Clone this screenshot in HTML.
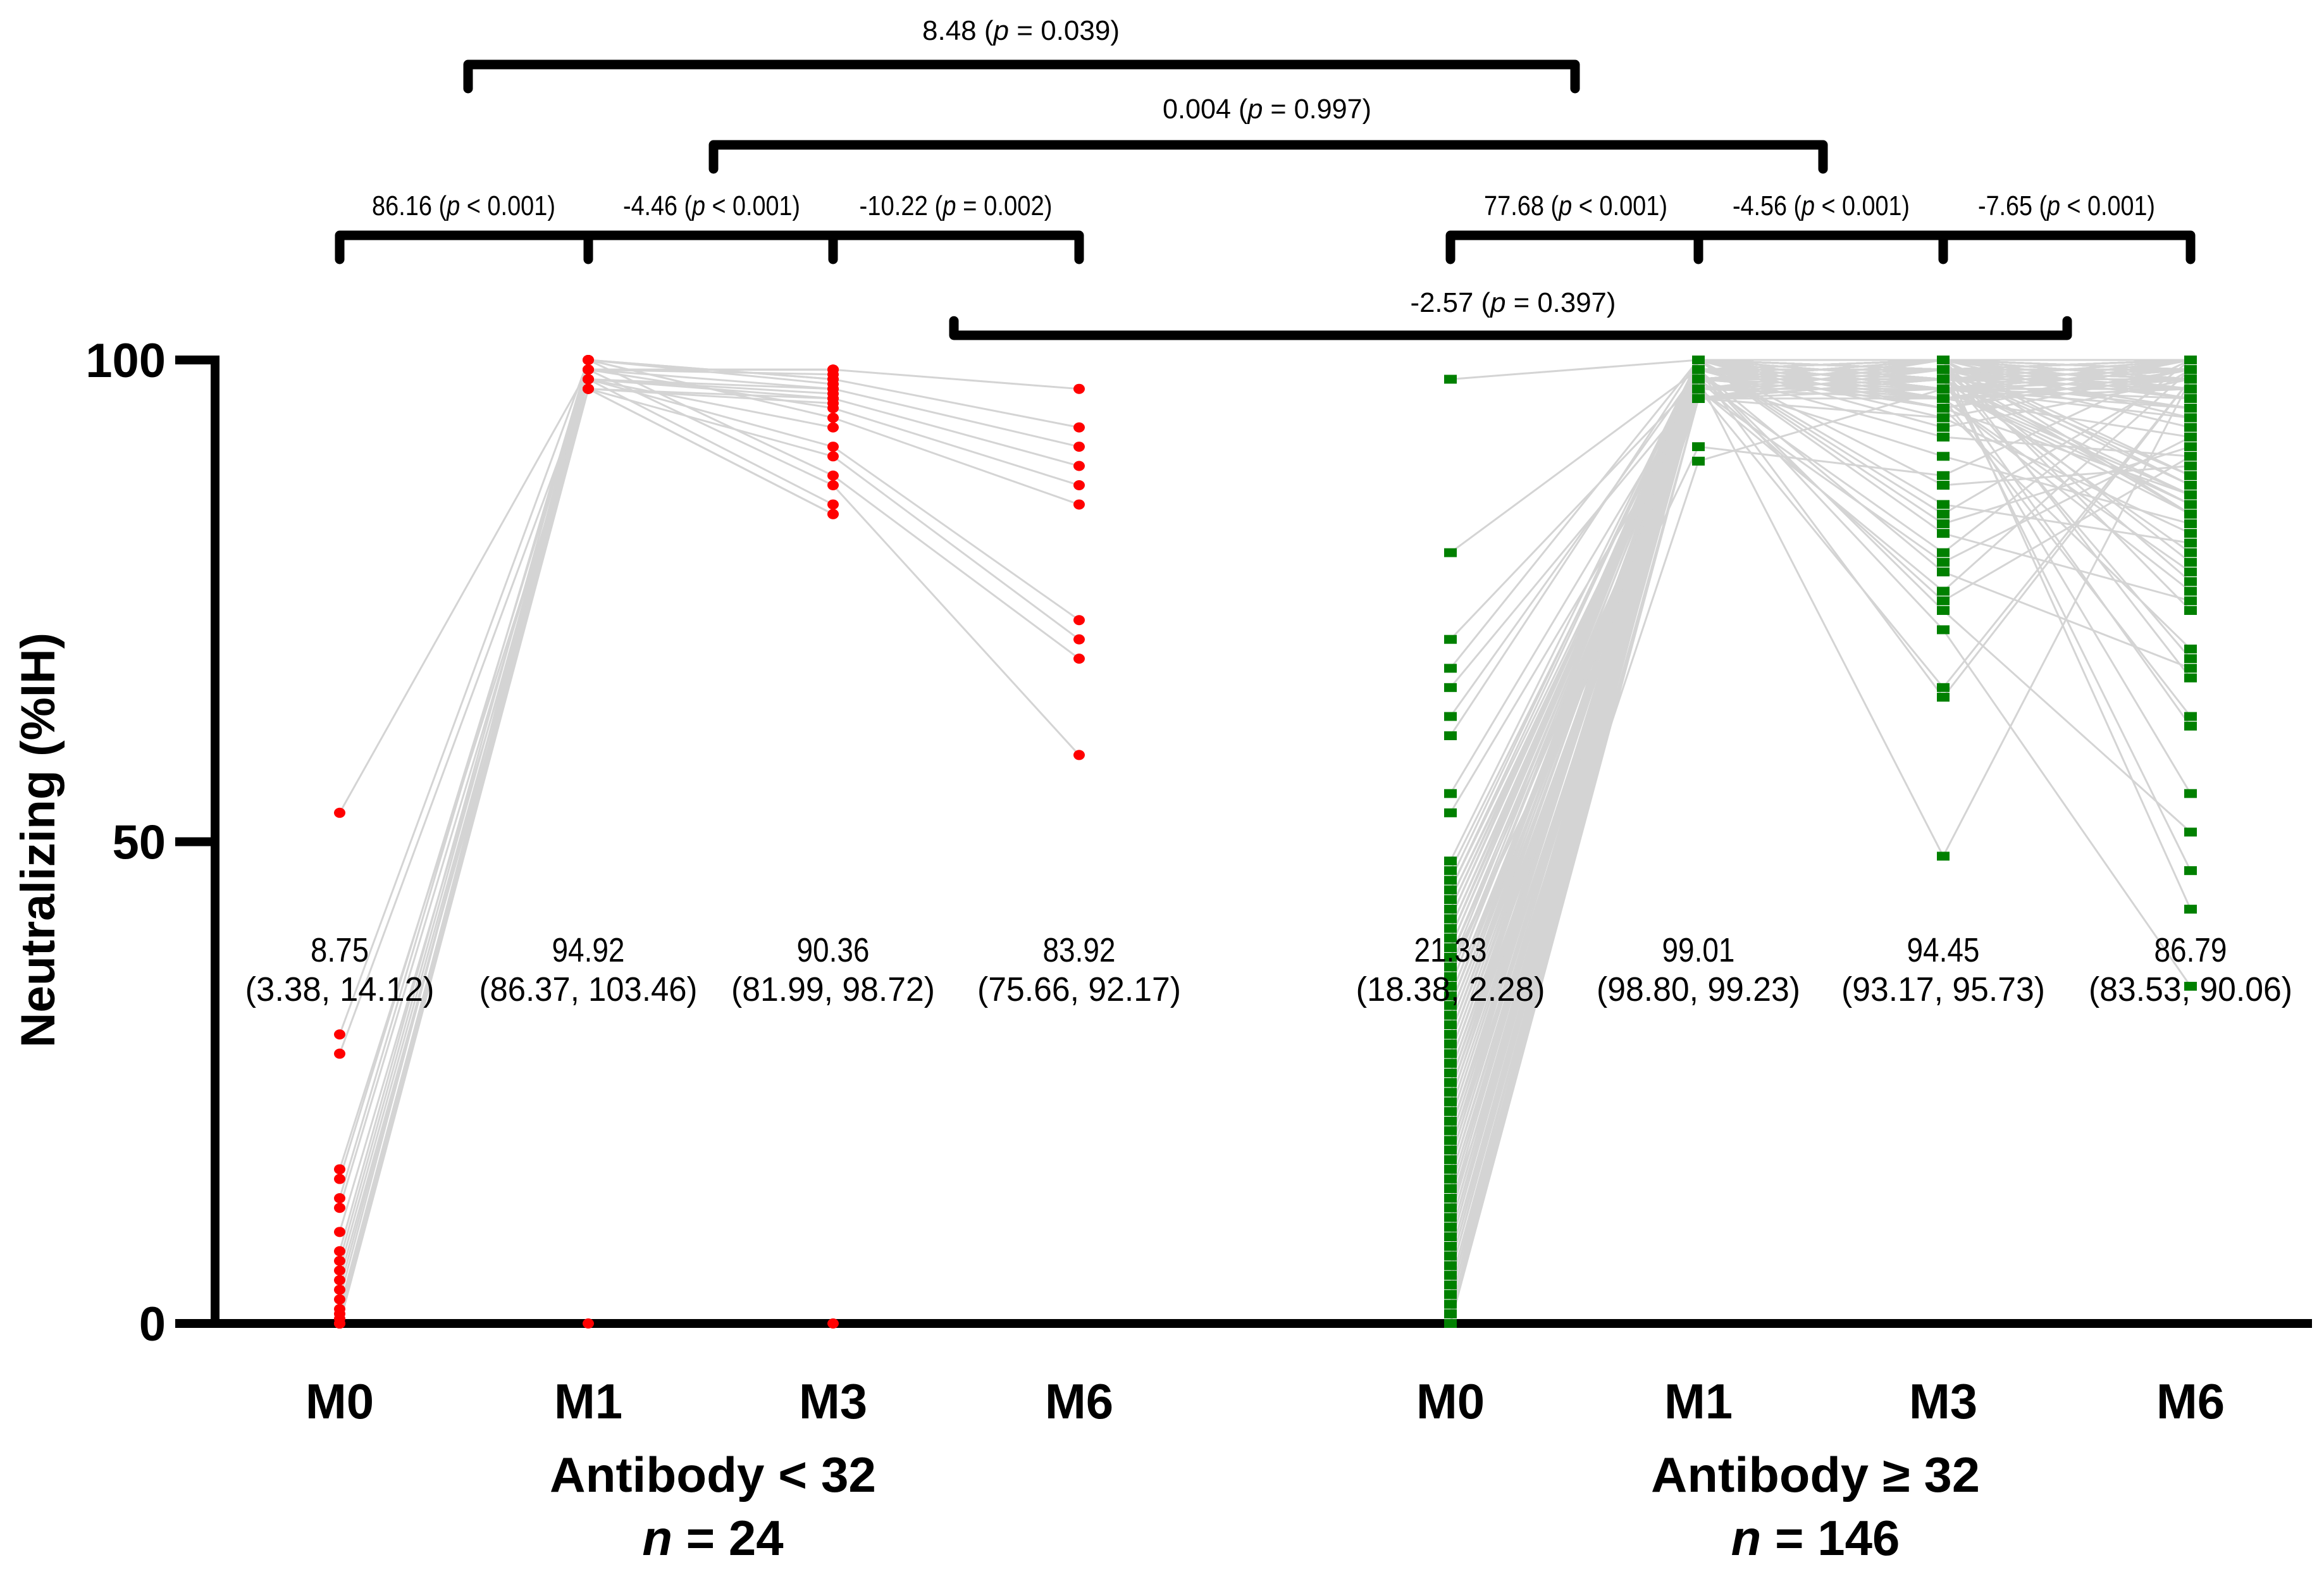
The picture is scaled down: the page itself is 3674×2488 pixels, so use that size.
<!DOCTYPE html>
<html><head><meta charset="utf-8"><style>
html,body{margin:0;padding:0;background:#fff;}
svg{display:block;font-family:"Liberation Sans",sans-serif;}
</style></head><body>
<svg id="chart" width="3674" height="2488" viewBox="0 0 3674 2488" xmlns="http://www.w3.org/2000/svg">
<g id="lines"></g>
<g id="axes"></g>
<g id="points"></g>
<g id="labels"></g>
</svg>
<script>
const timepoints = ["M0","M1","M3","M6"];
const groupNames = ["Antibody < 32","Antibody ≥ 32"];
const groupN = ["24","146"];
const yTicks = [0,50,100];
const meansL = ["8.75","94.92","90.36","83.92"];
const ciL = ["(3.38, 14.12)","(86.37, 103.46)","(81.99, 98.72)","(75.66, 92.17)"];
const meansR = ["21.33","99.01","94.45","86.79"];
const ciR = ["(18.38, 2.28)","(98.80, 99.23)","(93.17, 95.73)","(83.53, 90.06)"];

const m0L = [53,30,28,16,15,13,12,9.5,7.5,6.5,5.5,4.5,3.5,2.5,1.5,1,0.5,0,0,0,0,0,0,0];
const m1L = [99,100,98,97,99,100,98,97,100,99,98,97,99,100,98,99,97,98,100,99,98,97,0,99];
const m3L = [99,98,97,96,95,94,91,90,88,87,85,84,98.5,97.5,96.5,99,95.5,93,98,97,96,84,0,99];
const m6L = [97,93,91,89,87,85,73,71,69,59,null,null,null,null,null,null,null,null,null,null,null,null,null,null];

const m0R = [98,80,71,68,66,63,61,55,53,48,47,46,45,44,43,42,41,40,39,38,37,36,35,34,33,32,31,30,29,28,27,26,25,24,23,22,21,20,19,18,17,16,15,14,13,12,11,10,9,8,7,6,5,4,3,2,1,0,
44,42,40,38,36,35,33,31,30,28,27,25,24,22,21,19,18,17,15,14,12,11,9,8,6,5,3,2,1,0,
41,39,37,34,32,29,26,23,20,16,13,10,7,4,2,1,0,0,0,0,
45,43,38,36,33,31,29,27,25,23,21,19,17,15,13,11,9,7,5,3,
40,35,30,28,26,24,22,20,18,16,14,12,10,8,6,4,2,1];
const m1R = [100,99,98,100,97,99,100,98,96,100,99,100,98,97,99,100,99,98,100,96,
91,100,99,98,100,97,99,100,98,99,100,99,97,100,98,99,100,96,99,100,
98,100,99,97,100,89.5,99,98,100,99,97,100,99,98,100,96,99,100,98,99,
100,99,97,100,98,99,100,99,98,100,97,99,100,98,96,100,99,98,100,99,
97,100,99,98,100,99,96,100,98,99,100,97,99,100,98,99,100,99,98,100,
99,97,100,98,99,100,96,99,100,98,99,100,97,99,100,98,99,100,99,98,
100,97,99,100,98,99,100,96,99,100,98,99,97,100,99,98,100,99,98,100,
99,100,98,97,99,100];
const m3R = [100,99,98,97,96,100,95,99,94,98,100,93,99,97,92,100,98,90,99,96,
88,100,97,99,87,98,100,85,99,96,84,100,98,83,99,97,82,100,95,99,
80,98,100,79,99,97,78,100,96,98,76,99,100,75,97,98,74,99,100,72,
96,98,66,99,100,65,97,98,48.5,100,99,95,98,100,97,99,96,100,98,99,
100,97,99,98,100,96,99,98,100,97,99,100,98,95,99,100,97,98,99,100,
96,98,99,100,97,99,98,100,95,99,100,98,97,99,100,96,98,99,100,97,
99,98,100,96,99,97,100,98,99,94,100,97,99,98,100,96,99,100,98,99,
97,100,99,98,100,99];
const m6R = [100,99,97,95,92,88,86,84,82,80,99,98,96,94,90,87,85,83,79,78,
100,99,97,93,89,86,84,81,77,76,99,98,95,91,88,85,75,74,70,69,
100,98,96,92,87,84,68,67,63,62,99,97,94,90,86,55,51,47,43,35,
100,99,98,100,99,98,100,99,98,97,100,99,98,100,99,98,97,100,99,98,
100,99,98,100,99,98,97,100,99,96,100,99,98,100,99,98,97,100,99,98,
100,99,98,97,100,99,98,100,99,95,100,99,98,100,99,98,97,100,99,98,
100,99,98,97,100,99,98,97,100,99,100,99,98,97,96,100,99,98,97,100,
100,99,98,97,96,99];

const NS = "http://www.w3.org/2000/svg";
const X0 = 340, XAXIS_END = 3655, Y0 = 2092, YPX = 15.23;
const colXL = [537,930,1317,1706];
const colXR = [2293,2685,3072,3463];
function yScale(v){ return Y0 - v*YPX; }
function el(tag, attrs, parent){
  const e = document.createElementNS(NS, tag);
  for (const k in attrs) e.setAttribute(k, attrs[k]);
  parent.appendChild(e);
  return e;
}
const gL = document.getElementById('lines');
const gP = document.getElementById('points');
const gA = document.getElementById('axes');
const gT = document.getElementById('labels');

function drawGroup(series, xs, color, shape, tag){
  const n = series[0].length;
  for (let i=0;i<n;i++){
    for (let t=0;t<3;t++){
      const a = series[t][i], b = series[t+1][i];
      if (a==null || b==null) continue;
      const ln = el('line',{x1:xs[t],y1:yScale(a),x2:xs[t+1],y2:yScale(b),stroke:'#d4d4d4','stroke-width':3},gL);
      
      
    }
  }
  for (let t=0;t<4;t++){
    for (let i=0;i<n;i++){
      const v = series[t][i];
      if (v==null) continue;
      let m;
      if (shape==='circle') m = el('ellipse',{cx:xs[t],cy:yScale(v),rx:9,ry:8,fill:color},gP);
      else m = el('rect',{x:xs[t]-10,y:yScale(v)-7,width:20,height:14,fill:color},gP);
      
      
    }
  }
}
drawGroup([m0L,m1L,m3L,m6L], colXL, '#ff0000', 'circle', 'low-antibody');
drawGroup([m0R,m1R,m3R,m6R], colXR, '#008000', 'square', 'high-antibody');

let a = el('line',{x1:X0,y1:yScale(100)-7,x2:X0,y2:Y0+7,stroke:'#000','stroke-width':14},gA);
 
a = el('line',{x1:277,y1:Y0,x2:XAXIS_END,y2:Y0,stroke:'#000','stroke-width':14},gA);
 
yTicks.forEach(v=>{
  const tk = el('line',{x1:277,y1:yScale(v),x2:X0,y2:yScale(v),stroke:'#000','stroke-width':14},gA);
   
  const tx = el('text',{x:262,y:yScale(v)+27,'text-anchor':'end','font-size':76,'font-weight':'bold'},gT);
  tx.textContent = v;
   
});
let yt = el('text',{x:0,y:0,transform:'translate(86,1328) rotate(-90)','text-anchor':'middle','font-size':76,'font-weight':'bold',textLength:656,lengthAdjust:'spacingAndGlyphs'},gT);
yt.textContent = 'Neutralizing (%IH)';
 

function txt(x,y,s,size,weight,len,name){
  const t = el('text',{x:x,y:y,'text-anchor':'middle','font-size':size,'font-weight':weight||'normal'},gT);
  if (len){ t.setAttribute('textLength',len); t.setAttribute('lengthAdjust','spacingAndGlyphs'); }
  t.textContent = s;
  
  
  return t;
}
function ptxt(x,y,pre,op,post,len,name){
  const t = el('text',{x:x,y:y,'text-anchor':'middle','font-size':44,textLength:len,lengthAdjust:'spacingAndGlyphs'},gT);
  t.appendChild(document.createTextNode(pre+' ('));
  const it = el('tspan',{'font-style':'italic'},t); it.textContent='p';
  t.appendChild(document.createTextNode(' '+op+' '+post+')'));
  
  
}
[colXL,colXR].forEach((xs,g)=>{
  xs.forEach((x,i)=>{
    txt(x,2242,timepoints[i],78,'bold',null,'x-label-'+timepoints[i].toLowerCase());
    const means = g===0?meansL:meansR, ci = g===0?ciL:ciR;
    txt(x,1520,means[i],54,'normal',means[i].length*23,'mean-label');
    txt(x,1582,ci[i],54,'normal',ci[i].length*23,'ci-label');
  });
});
const gc = [1127,2870];
gc.forEach((c,g)=>{
  txt(c,2358,groupNames[g],78,'bold',g===0?516:520,'group-label');
  const n = el('text',{x:c,y:2458,'text-anchor':'middle','font-size':78,'font-weight':'bold'},gT);
  const it = el('tspan',{'font-style':'italic'},n); it.textContent='n';
  n.appendChild(document.createTextNode(' = '+groupN[g]));
   
});

function bracket(xs,y,dir,name){
  const p = el('path',{d:'',fill:'none',stroke:'#000','stroke-width':15,'stroke-linecap':'round','stroke-linejoin':'round'},gA);
  let d = 'M'+xs[0]+' '+y+' L'+xs[xs.length-1]+' '+y;
  xs.forEach(x=>{ d += ' M'+x+' '+y+' L'+x+' '+(y+dir*38); });
  p.setAttribute('d',d);
  
  
}
bracket([740,2490],102,1,'bracket-m1-between-groups');
ptxt(1614,63,'8.48','=','0.039',312,'bracket-label-8-48');
bracket([1128,2882],229,1,'bracket-m3-between-groups');
ptxt(2003,187,'0.004','=','0.997',330,'bracket-label-0-004');
bracket(colXL,372,1,'bracket-low-timepoints');
ptxt(733,340,'86.16','<','0.001',290,'bracket-label-86-16');
ptxt(1125,340,'-4.46','<','0.001',280,'bracket-label-4-46');
ptxt(1511,340,'-10.22','=','0.002',305,'bracket-label-10-22');
bracket(colXR,372,1,'bracket-high-timepoints');
ptxt(2491,340,'77.68','<','0.001',290,'bracket-label-77-68');
ptxt(2879,340,'-4.56','<','0.001',280,'bracket-label-4-56');
ptxt(3267,340,'-7.65','<','0.001',280,'bracket-label-7-65');
bracket([1508,3268],530,-0.6,'bracket-m6-between-groups');
ptxt(2392,493,'-2.57','=','0.397',325,'bracket-label-2-57');
</script>
</body></html>
